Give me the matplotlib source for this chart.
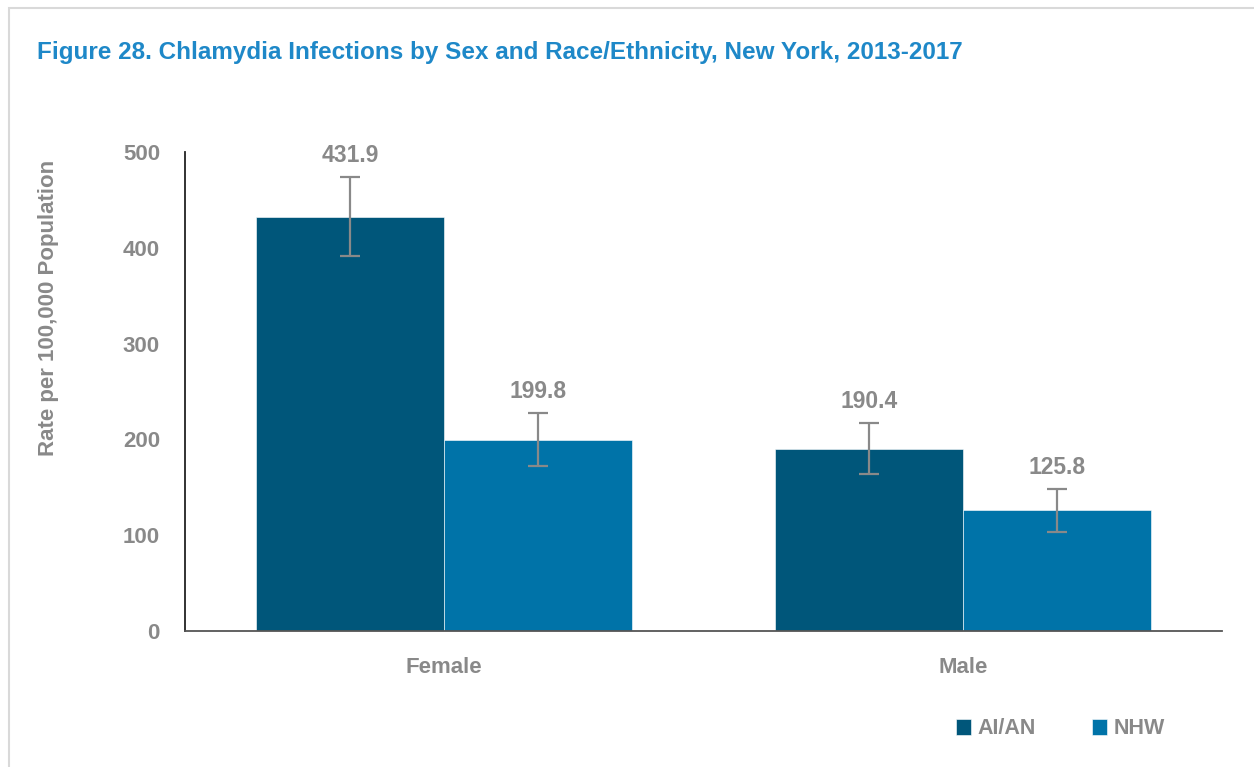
import matplotlib
matplotlib.use("Agg")
import matplotlib.pyplot as plt
from matplotlib.patches import Rectangle
import numpy as np

categories = ["Female", "Male"]
series = ["AI/AN", "NHW"]
aian_values = [431.9, 190.4]
nhw_values = [199.8, 125.8]
aian_lower = [391.4, 164.0]
aian_upper = [474.0, 217.0]
nhw_lower = [172.2, 103.0]
nhw_upper = [227.6, 148.0]
yticks = [0, 100, 200, 300, 400, 500]

colors = ["#00567A", "#0073A8"]
gray = "#898989"
fam = ["Liberation Sans Narrow", "Liberation Sans", "DejaVu Sans"]
plt.rcParams["font.family"] = fam
plt.rcParams["font.weight"] = "bold"

W, H = 1254, 767
fig = plt.figure(figsize=(W / 100, H / 100), dpi=100)
fig.patches.append(Rectangle((9 / W, -0.1), 1.2, 1 - 8 / H + 0.1, transform=fig.transFigure,
                             fill=False, edgecolor="#D9D9D9", linewidth=1.5))

ax = fig.add_axes([185 / W, (H - 631) / H, 1037 / W, 479 / H])
x = np.arange(len(categories))
bw = 0.3626
vals = [aian_values, nhw_values]
lows = [aian_lower, nhw_lower]
ups = [aian_upper, nhw_upper]
for i, s in enumerate(series):
    pos = x + (i - 0.5) * bw
    v = np.array(vals[i])
    lo = np.array(lows[i])
    up = np.array(ups[i])
    ax.bar(pos, v, width=bw, color=colors[i], label=s, edgecolor="white", linewidth=0.4)
    ax.errorbar(pos, v, yerr=[v - lo, up - v], fmt="none", ecolor=gray, elinewidth=1.6,
                capsize=7, capthick=1.6)
    for p, val, u in zip(pos, v, up):
        ax.annotate(f"{val:.1f}", (p, u), xytext=(0, 7), textcoords="offset points",
                    ha="center", va="bottom", fontsize=16.5, color=gray, fontweight="bold")

ax.set_xlim(-0.5, 1.5)
ax.set_ylim(0, 500)
ax.set_yticks(yticks)
ax.set_xticks(x)
ax.set_xticklabels(categories)
ax.tick_params(axis="both", length=0, labelsize=16, labelcolor=gray)
ax.tick_params(axis="y", pad=18)
ax.tick_params(axis="x", pad=19)
for t in ax.get_xticklabels() + ax.get_yticklabels():
    t.set_fontweight("bold")
for s in ["top", "right"]:
    ax.spines[s].set_visible(False)
ax.spines["left"].set_color("#222222")
ax.spines["bottom"].set_color("#555555")
ax.spines["left"].set_linewidth(1.3)
ax.spines["bottom"].set_linewidth(1.3)
ax.set_ylabel("Rate per 100,000 Population", fontsize=16, color=gray, fontweight="bold")
ax.yaxis.set_label_coords(-0.1215, 0.675)

fig.text(37 / W, 1 - 52 / H, "Figure 28. Chlamydia Infections by Sex and Race/Ethnicity, New York, 2013-2017",
         fontsize=17.5, color="#1E88C8", fontweight="bold", va="center", ha="left")

leg = fig.legend(loc="center left", bbox_to_anchor=(937 / W, 1 - 729 / H), ncol=2, frameon=False,
                 fontsize=15.5, handlelength=0.7, handleheight=0.7, handletextpad=0.3,
                 columnspacing=2.6)
for t in leg.get_texts():
    t.set_color(gray)
    t.set_fontweight("bold")

fig.savefig("out.png", dpi=100)
